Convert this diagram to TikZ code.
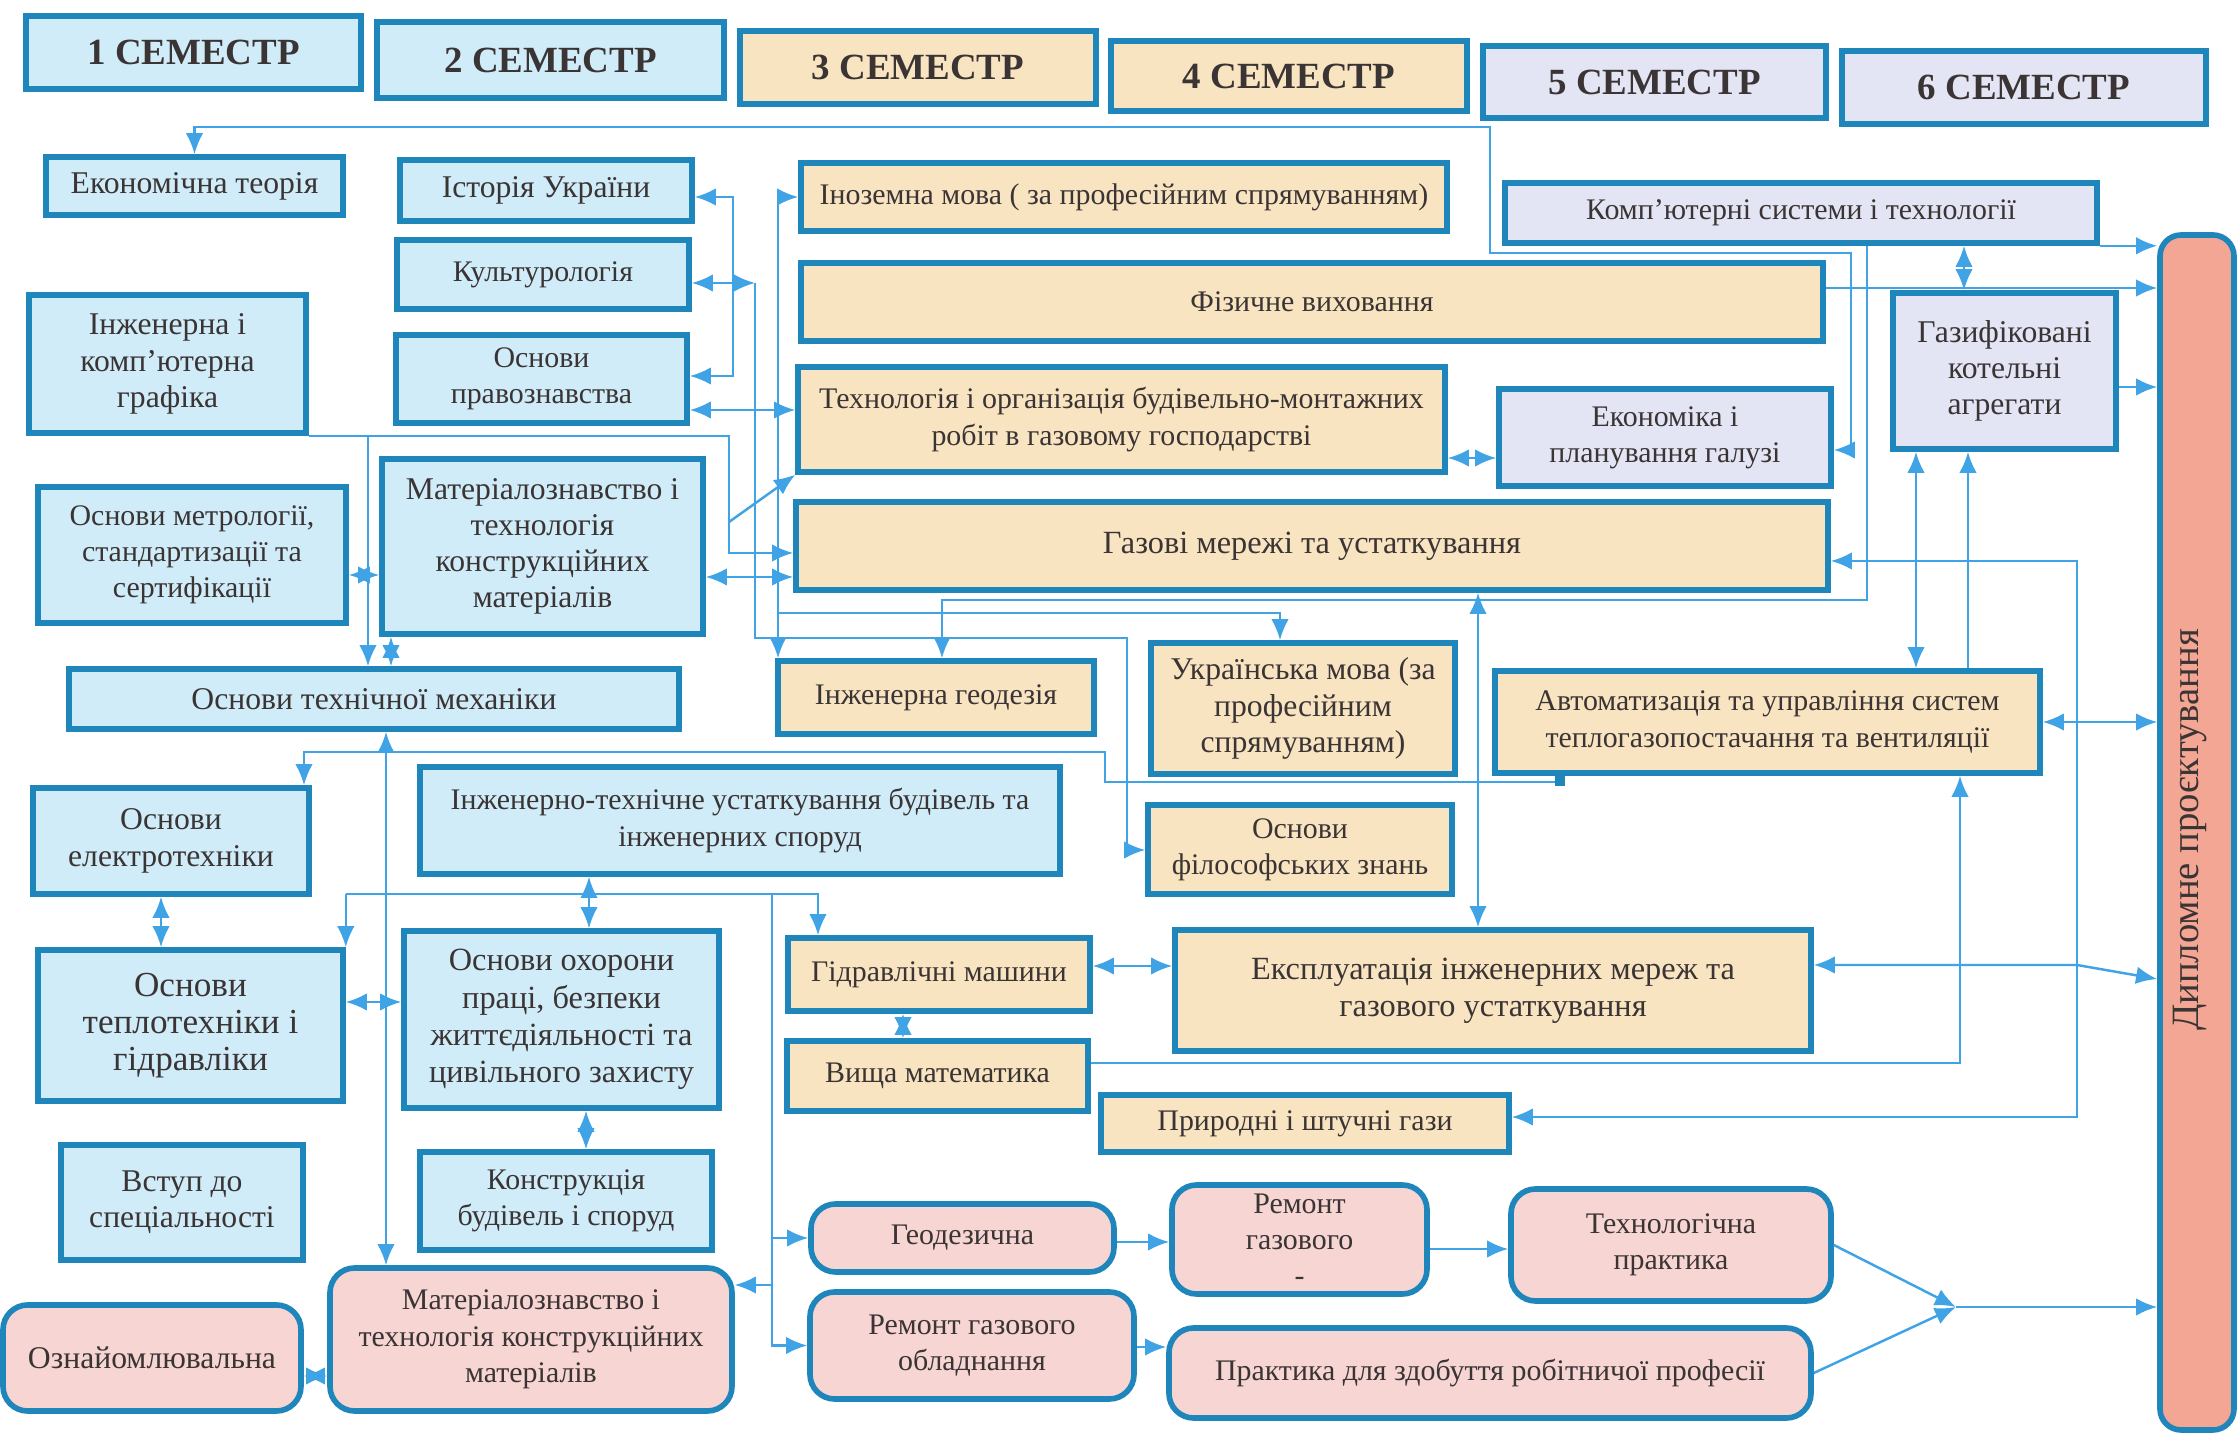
\documentclass[tikz,border=0pt]{standalone}
\usepackage{fontspec}
\setmainfont{Liberation Serif}
\usetikzlibrary{arrows.meta}

\definecolor{frameblue}{HTML}{1F86BC}
\definecolor{linkblue}{HTML}{3FA3E6}
\definecolor{skyfill}{HTML}{D0ECF8}
\definecolor{sandfill}{HTML}{F9E4C2}
\definecolor{lilacfill}{HTML}{E3E4F4}
\definecolor{rosefill}{HTML}{F6D5D3}
\definecolor{salmonfill}{HTML}{F4A694}
\definecolor{inktext}{HTML}{3A3434}

\begin{document}
\begin{tikzpicture}[x=0.01cm, y=-0.01cm, >={Latex[length=6pt, width=5pt]},
		box/.style={draw=frameblue, line width=1.6pt, align=center, text=inktext, inner sep=1pt,
			font=\fontsize{8.5}{10.3}\selectfont},
		wh/.style 2 args={minimum width={(#1-4)*0.01cm}, minimum height={(#2-4)*0.01cm}},
		head/.style={box, font=\fontsize{10.5}{12}\selectfont\bfseries},
		mid/.style={font=\fontsize{9}{10.3}\selectfont},
		big/.style={font=\fontsize{9.2}{10.6}\selectfont},
		course1/.style={box, fill=skyfill},
		course2/.style={box, fill=sandfill},
		course3/.style={box, fill=lilacfill},
		practice/.style={box, fill=rosefill, rounded corners=7pt},
		link/.style={draw=linkblue, line width=0.7pt}]
		\useasboundingbox (0,0) rectangle (2238,1437);

		% semesters
		\node[head, fill=skyfill, wh={339}{77}] (sem1) at (193.5,52.5) {1 СЕМЕСТР};
		\node[head, fill=skyfill, wh={351}{80}] (sem2) at (550.5,60) {2 СЕМЕСТР};
		\node[head, fill=sandfill, wh={360}{77}] (sem3) at (918,67.5) {3 СЕМЕСТР};
		\node[head, fill=sandfill, wh={360}{74}] (sem4) at (1289,76) {4 СЕМЕСТР};
		\node[head, fill=lilacfill, wh={347}{76}] (sem5) at (1654.5,82) {5 СЕМЕСТР};
		\node[head, fill=lilacfill, wh={368}{77}] (sem6) at (2024,87.5) {6 СЕМЕСТР};

		% 1--2 semester
		\node[course1, mid, wh={301}{62}] (econ) at (194.5,186) {Економічна теорія};
		\node[course1, mid, wh={296}{65}] (hist) at (546,190.5) {Історія України};
		\node[course1, wh={296}{73}] (cult) at (543,274.5) {Культурологія};
		\node[course1, wh={295}{92}] (law) at (541.5,379) {Основи\\правознавства};
		\node[course1, mid, wh={281}{142}] (graph) at (167.5,364) {Інженерна і\\комп'ютерна\\графіка};
		\node[course1, wh={312}{140}] (metr) at (192,555) {Основи метрології,\\стандартизації та\\сертифікації};
		\node[course1, mid, wh={325}{179}] (mat) at (542.5,546.5) {Матеріалознавство і\\технологія\\конструкційних\\матеріалів};
		\node[course1, mid, wh={614}{64}] (mech) at (374,699) {Основи технічної механіки};
		\node[course1, mid, wh={280}{110}] (elec) at (171,841) {Основи\\електротехніки};
		\node[course1, wh={644}{111}] (eng) at (740,820.5) {Інженерно-технічне устаткування будівель та\\інженерних споруд};
		\node[course1, font=\fontsize{10}{10.6}\selectfont, wh={309}{155}] (heat) at (190.5,1025.5) {Основи\\теплотехніки і\\гідравліки};
		\node[course1, big, wh={319}{181}] (safe) at (561.5,1019.5) {Основи охорони\\праці, безпеки\\життєдіяльності та\\цивільного захисту};
		\node[course1, mid, wh={246}{119}] (intro) at (182,1202.5) {Вступ до\\спеціальності};
		\node[course1, wh={296}{102}] (constr) at (566,1201) {Конструкція\\будівель і споруд};

		% 3--4 semester
		\node[course2, wh={650}{72}] (lang) at (1124,197) {Іноземна мова ( за професійним спрямуванням)};
		\node[course2, wh={1026}{82}] (sport) at (1312,302) {Фізичне виховання};
		\node[course2, wh={651}{109}] (techorg) at (1121.5,419.5) {Технологія і організація будівельно-монтажних\\робіт в газовому господарстві};
		\node[course2, big, wh={1036}{92}] (gasnet) at (1312,546) {Газові мережі та устаткування};
		\node[course2, wh={320}{77}] (geo) at (936,697.5) {Інженерна геодезія};
		\node[course2, mid, wh={308}{135}] (ukr) at (1303,708.5) {Українська мова (за\\професійним\\спрямуванням)};
		\node[course2, wh={308}{93}] (phil) at (1300,849.5) {Основи\\філософських знань};
		\node[course2, wh={306}{77}] (hydr) at (939,974.5) {Гідравлічні машини};
		\node[course2, wh={305}{74}] (math) at (937.5,1076) {Вища математика};
		\node[course2, big, wh={640}{125}] (oper) at (1493,990.5) {Експлуатація інженерних мереж та\\газового устаткування};
		\node[course2, wh={412}{61}] (gas) at (1305,1123.5) {Природні і штучні гази};
		\node[course2, wh={549}{106}] (auto) at (1767.5,722) {Автоматизація та управління систем\\теплогазопостачання та вентиляції};

		% 5--6 semester
		\node[course3, wh={596}{64}] (comp) at (1801,213) {Комп’ютерні системи і технології};
		\node[course3, wh={336}{101}] (ecpl) at (1665,437.5) {Економіка і\\планування галузі};
		\node[course3, mid, wh={227}{160}] (boil) at (2004.5,371) {Газифіковані\\котельні\\агрегати};

		% practice
		\node[practice, mid, wh={302}{110}] (famil) at (152,1358) {Ознайомлювальна};
		\node[practice, wh={406}{147}] (matp) at (531,1339.5) {Матеріалознавство і\\технологія конструкційних\\матеріалів};
		\node[practice, wh={307}{72}] (geod) at (962.5,1238) {Геодезична};
		\node[practice, wh={328}{111}] (repeq) at (972,1345.5) {Ремонт газового\\обладнання};
		\node[practice, wh={259}{113}] (repg) at (1299.5,1239.5) {Ремонт\\газового\\-};
		\node[practice, wh={324}{116}] (techp) at (1671,1245) {Технологічна\\практика};
		\node[practice, wh={646}{94}] (work) at (1490,1373) {Практика для здобуття робітничої професії};

		\node[box, fill=salmonfill, rounded corners=6pt, wh={78}{1199}] (dipl) at (2197,832.5) {};
		\node[rotate=90, text=inktext, font=\fontsize{11}{12}\selectfont] (dipltext) at (2190,830) {Дипломне проєктування};

		% connectors
		\draw[link, <->] (econ.north) -- (econ.north |- 0,127) -| (1490,253) -| (1851,450) -- (ecpl.east |- 0,450);
		\draw[link, <->] (hist.east |- 0,197) -| (733,376) -- (law.east |- 0,376);
		\draw[link, <->] (cult.east |- 0,283) -- (755,283);
		\draw[link, ->] (755,283) |- (1127,638) |- (phil.west |- 0,850);
		\draw[link, <->] (law.east |- 0,410) -- (techorg.west |- 0,410);
		\draw[link, <->] (lang.west) -| (778,0 |- geo.north);
		\draw[link, ->] (778,613) -| (1280,0 |- ukr.north);
		\draw[link, ->] (graph.south east) -| (729,553) -- (gasnet.west |- 0,553);
		\draw[link, ->] (368,0 |- graph.south east) -- (368,0 |- mech.north);
		\draw[link, ->] (729,522) -- (techorg.south west);
		\draw[link, <->] (391,0 |- mat.south) -- (391,0 |- mech.north);
		\draw[link, <->] (metr.east |- 0,575) -- (mat.west |- 0,575);
		\draw[link, <->] (mat.east |- 0,577) -- (gasnet.west |- 0,577);
		\draw[link, ->] (1867,0 |- comp.south) |- (942,600) -- (942,0 |- geo.north);
		\draw[link, <->] (gas.east |- 0,1117) -| (2077,561) -- (gasnet.east |- 0,561);
		\draw[link, ->] (sport.east |- 0,288) -- (dipl.west |- 0,288);
		\draw[link, ->] (comp.south east) -- (dipl.west |- comp.south east);
		\draw[link, <->] (1964,0 |- comp.south) -- (1964,0 |- boil.north);
		\draw[link, ->] (boil.east |- 0,387) -- (dipl.west |- 0,387);
		\draw[link, <->] (1916,0 |- boil.south) -- (1916,0 |- auto.north);
		\draw[link, ->] (1968,0 |- auto.north) -- (1968,0 |- boil.south);
		\draw[link, <->] (auto.east) -- (dipl.west |- auto.east);
		\draw[link, ->] (math.east |- 0,1063) -| (1960,0 |- auto.south);
		\draw[link, <->] (oper.east |- 0,965) -- (2077,965) -- (dipl.west |- 0,979);
		\draw[link, <->] (hydr.east |- 0,966) -- (oper.west |- 0,966);
		\draw[link, <->] (1478,0 |- gasnet.south) -- (1478,0 |- oper.north);
		\draw[link, <->] (903,0 |- hydr.south) -- (903,0 |- math.north);
		\draw[link, <->] (techorg.east |- 0,458) -- (ecpl.west |- 0,458);
		\draw[link, ->] (1560,0 |- auto.south) -- (1560,782) -| (1105,752) -| (304,0 |- elec.north);
		\draw[frameblue, line width=3pt] (1560,0 |- auto.south) -- ++(0,10);
		\draw[link, <->] (161,0 |- elec.south) -- (161,0 |- heat.north);
		\draw[link, <->] (heat.east |- 0,1002) -- (safe.west |- 0,1002);
		\draw[link, <->] (589,0 |- eng.south) -- (589,0 |- safe.north);
		\draw[link, <->] (586,0 |- safe.south) -- (586,0 |- constr.north);
		\draw[link, ->] (heat.north east |- 0,894) -| (818,0 |- hydr.north);
		\draw[link, ->] (heat.north east |- 0,894) -- (heat.north east);
		\draw[link, ->] (772,894) |- (repeq.west);
		\draw[link, ->] (772,0 |- geod.west) -- (geod.west);
		\draw[link, ->] (772,1285) -- (matp.east |- 0,1285);
		\draw[link, <->] (386,0 |- mech.south) -- (386,0 |- matp.north);
		\draw[link, <->] (famil.east |- 0,1376) -- (matp.west |- 0,1376);
		\draw[link, ->] (geod.east |- 0,1242) -- (repg.west |- 0,1242);
		\draw[link, ->] (repg.east |- 0,1249) -- (techp.west |- 0,1249);
		\draw[link, ->] (repeq.east |- 0,1347) -- (work.west |- 0,1347);
		\coordinate (merge) at (1956,1307);
		\draw[link, ->] (techp.east) -- (merge);
		\draw[link, ->] (work.east) -- (merge);
		\draw[link, ->] (merge) -- (dipl.west |- merge);
\end{tikzpicture}
\end{document}
